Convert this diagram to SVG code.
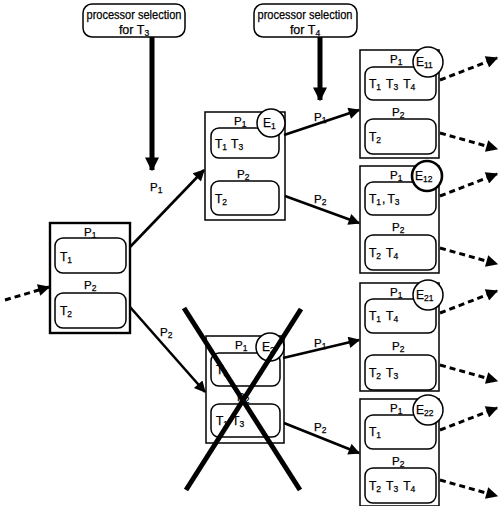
<svg xmlns="http://www.w3.org/2000/svg" width="503" height="506" viewBox="0 0 503 506">
<style>
text{font-family:"Liberation Sans",Arial,sans-serif;fill:#000;stroke:#000;stroke-width:0.25}
.lbl{font-size:12.5px}
.p{font-size:11.5px}
.t{font-size:12px}
.s{font-size:8.5px}
.box{fill:#fff;stroke:#000;stroke-width:1.5}
.rr{fill:#fff;stroke:#000;stroke-width:1.5}
.circ{fill:#fff;stroke:#000;stroke-width:1.5}
.ln{stroke:#000;stroke-width:2.6;fill:none}
.dash{stroke:#000;stroke-width:3;stroke-dasharray:6 4;fill:none}
.thick{stroke:#000;stroke-width:5;fill:none}
</style>
<defs>
<marker id="ah" viewBox="0 0 10 10" refX="9" refY="5" markerWidth="5" markerHeight="4.4" orient="auto" markerUnits="strokeWidth"><path d="M0,0 L10,5 L0,10 z" fill="#000"/></marker>
<marker id="ahd" viewBox="0 0 10 10" refX="9" refY="5" markerWidth="4.4" markerHeight="4" orient="auto" markerUnits="strokeWidth"><path d="M0,0 L10,5 L0,10 z" fill="#000"/></marker>
<marker id="aht" viewBox="0 0 10 10" refX="9" refY="5" markerWidth="2.8" markerHeight="2.8" orient="auto" markerUnits="strokeWidth"><path d="M0,0 L10,5 L0,10 z" fill="#000"/></marker>
</defs>

<g id="sel3">
<rect x="83" y="4" width="102" height="33" rx="9" class="box"/>
<text x="134" y="19" text-anchor="middle" class="lbl" textLength="95" lengthAdjust="spacingAndGlyphs">processor selection</text>
<text x="134" y="34" text-anchor="middle" class="lbl">for T<tspan class="s" dy="2">3</tspan></text>
</g>
<g id="sel4">
<rect x="254" y="4" width="103" height="33" rx="9" class="box"/>
<text x="305" y="19" text-anchor="middle" class="lbl" textLength="95" lengthAdjust="spacingAndGlyphs">processor selection</text>
<text x="305" y="34" text-anchor="middle" class="lbl">for T<tspan class="s" dy="2">4</tspan></text>
</g>

<g id="root">
<rect x="50" y="223" width="80" height="110" fill="#fff" stroke="#000" stroke-width="2.4"/>
<text x="84" y="236" class="p">P<tspan class="s" dy="2">1</tspan></text>
<rect x="55" y="238" width="71" height="35" rx="8" class="rr"/>
<text x="60" y="261" class="t">T<tspan class="s" dy="2">1</tspan></text>
<text x="84" y="289" class="p">P<tspan class="s" dy="2">2</tspan></text>
<rect x="55" y="293" width="71" height="35" rx="8" class="rr"/>
<text x="60" y="315" class="t">T<tspan class="s" dy="2">2</tspan></text>
</g>

<g id="E1">
<rect x="205" y="112" width="80" height="108" class="box"/>
<text x="234" y="125" class="p">P<tspan class="s" dy="2">1</tspan></text>
<rect x="211" y="128" width="68" height="30" rx="8" class="rr"/>
<text x="215" y="148" class="t">T<tspan class="s" dy="2">1</tspan><tspan dy="-2" dx="4">T</tspan><tspan class="s" dy="2">3</tspan></text>
<text x="237" y="178" class="p">P<tspan class="s" dy="2">2</tspan></text>
<rect x="211" y="181" width="68" height="34" rx="8" class="rr"/>
<text x="215" y="203" class="t">T<tspan class="s" dy="2">2</tspan></text>
<circle cx="271" cy="123" r="14" class="circ"/>
<text x="263" y="127" class="t">E<tspan class="s" dy="2">1</tspan></text>
</g>

<g id="E2">
<rect x="206" y="336" width="78" height="107" class="box"/>
<text x="235" y="349" class="p">P<tspan class="s" dy="2">1</tspan></text>
<rect x="211" y="353" width="69" height="33" rx="8" class="rr"/>
<text x="216" y="374" class="t">T<tspan class="s" dy="2">1</tspan></text>
<text x="237" y="401" class="p">P<tspan class="s" dy="2">2</tspan></text>
<rect x="211" y="404" width="69" height="33" rx="8" class="rr"/>
<text x="216" y="425" class="t">T<tspan class="s" dy="2">1</tspan><tspan dy="-2" dx="4">T</tspan><tspan class="s" dy="2">3</tspan></text>
<circle cx="270" cy="347" r="14" class="circ"/>
<text x="262" y="351" class="t">E<tspan class="s" dy="2">2</tspan></text>
</g>

<g id="E11">
<rect x="360" y="50" width="79" height="108" class="box"/>
<text x="390" y="63" class="p">P<tspan class="s" dy="2">1</tspan></text>
<rect x="365" y="67" width="71" height="33" rx="8" class="rr"/>
<text x="369" y="88" class="t">T<tspan class="s" dy="2">1</tspan><tspan dy="-2" dx="5">T</tspan><tspan class="s" dy="2">3</tspan><tspan dy="-2" dx="5">T</tspan><tspan class="s" dy="2">4</tspan></text>
<text x="392" y="116" class="p">P<tspan class="s" dy="2">2</tspan></text>
<rect x="365" y="119" width="71" height="35" rx="8" class="rr"/>
<text x="369" y="141" class="t">T<tspan class="s" dy="2">2</tspan></text>
<circle cx="428" cy="62" r="15" class="circ"/>
<text x="416" y="66" class="t">E<tspan class="s" dy="2">11</tspan></text>
</g>

<g id="E12">
<rect x="360" y="166" width="79" height="107" class="box"/>
<text x="390" y="179" class="p">P<tspan class="s" dy="2">1</tspan></text>
<rect x="365" y="182" width="71" height="33" rx="8" class="rr"/>
<text x="369" y="203" class="t">T<tspan class="s" dy="2">1</tspan><tspan dx="1" dy="-2">,</tspan><tspan dx="2">T</tspan><tspan class="s" dy="2">3</tspan></text>
<text x="392" y="231" class="p">P<tspan class="s" dy="2">2</tspan></text>
<rect x="365" y="235" width="71" height="35" rx="8" class="rr"/>
<text x="369" y="257" class="t">T<tspan class="s" dy="2">2</tspan><tspan dy="-2" dx="5">T</tspan><tspan class="s" dy="2">4</tspan></text>
<circle cx="427" cy="176" r="15" fill="#fff" stroke="#000" stroke-width="2.6"/>
<text x="415" y="180" class="t">E<tspan class="s" dy="2">12</tspan></text>
</g>

<g id="E21">
<rect x="360" y="283" width="79" height="108" class="box"/>
<text x="390" y="296" class="p">P<tspan class="s" dy="2">1</tspan></text>
<rect x="365" y="299" width="71" height="34" rx="8" class="rr"/>
<text x="369" y="320" class="t">T<tspan class="s" dy="2">1</tspan><tspan dy="-2" dx="5">T</tspan><tspan class="s" dy="2">4</tspan></text>
<text x="392" y="350" class="p">P<tspan class="s" dy="2">2</tspan></text>
<rect x="365" y="355" width="71" height="35" rx="8" class="rr"/>
<text x="369" y="377" class="t">T<tspan class="s" dy="2">2</tspan><tspan dy="-2" dx="5">T</tspan><tspan class="s" dy="2">3</tspan></text>
<circle cx="428" cy="295" r="15" class="circ"/>
<text x="416" y="299" class="t">E<tspan class="s" dy="2">21</tspan></text>
</g>

<g id="E22">
<rect x="360" y="399" width="79" height="107" class="box"/>
<text x="390" y="412" class="p">P<tspan class="s" dy="2">1</tspan></text>
<rect x="365" y="415" width="71" height="34" rx="8" class="rr"/>
<text x="369" y="436" class="t">T<tspan class="s" dy="2">1</tspan></text>
<text x="392" y="465" class="p">P<tspan class="s" dy="2">2</tspan></text>
<rect x="365" y="468" width="71" height="35" rx="8" class="rr"/>
<text x="369" y="490" class="t">T<tspan class="s" dy="2">2</tspan><tspan dy="-2" dx="5">T</tspan><tspan class="s" dy="2">3</tspan><tspan dy="-2" dx="5">T</tspan><tspan class="s" dy="2">4</tspan></text>
<circle cx="428" cy="410" r="15" class="circ"/>
<text x="416" y="414" class="t">E<tspan class="s" dy="2">22</tspan></text>
</g>

<g id="connectors">
<line x1="152" y1="37" x2="152" y2="170" class="thick" marker-end="url(#aht)"/>
<line x1="320" y1="37" x2="320" y2="100" class="thick" marker-end="url(#aht)"/>
<line x1="5" y1="300" x2="49" y2="287" class="dash" marker-end="url(#ahd)"/>
<line x1="130" y1="247" x2="204" y2="170" class="ln" marker-end="url(#ah)"/>
<line x1="130" y1="307" x2="205" y2="392" class="ln" marker-end="url(#ah)"/>
<line x1="284" y1="135" x2="359" y2="110" class="ln" marker-end="url(#ah)"/>
<line x1="285" y1="196" x2="359" y2="223" class="ln" marker-end="url(#ah)"/>
<line x1="283" y1="358" x2="359" y2="340" class="ln" marker-end="url(#ah)"/>
<line x1="284" y1="423" x2="359" y2="453" class="ln" marker-end="url(#ah)"/>
<line x1="440" y1="80" x2="497" y2="58" class="dash" marker-end="url(#ahd)"/>
<line x1="440" y1="133" x2="497" y2="149" class="dash" marker-end="url(#ahd)"/>
<line x1="440" y1="196" x2="497" y2="174" class="dash" marker-end="url(#ahd)"/>
<line x1="440" y1="248" x2="497" y2="264" class="dash" marker-end="url(#ahd)"/>
<line x1="440" y1="313" x2="497" y2="291" class="dash" marker-end="url(#ahd)"/>
<line x1="440" y1="365" x2="497" y2="381" class="dash" marker-end="url(#ahd)"/>
<line x1="440" y1="430" x2="497" y2="408" class="dash" marker-end="url(#ahd)"/>
<line x1="440" y1="480" x2="497" y2="496" class="dash" marker-end="url(#ahd)"/>
<text x="150" y="191" class="p">P<tspan class="s" dy="2">1</tspan></text>
<text x="160" y="336" class="p">P<tspan class="s" dy="2">2</tspan></text>
<text x="314" y="121" class="p">P<tspan class="s" dy="2">1</tspan></text>
<text x="314" y="203" class="p">P<tspan class="s" dy="2">2</tspan></text>
<text x="314" y="347" class="p">P<tspan class="s" dy="2">1</tspan></text>
<text x="314" y="431" class="p">P<tspan class="s" dy="2">2</tspan></text>
</g>

<g id="cross">
<line x1="184" y1="308" x2="300" y2="490" stroke="#000" stroke-width="5"/>
<line x1="301" y1="309" x2="186" y2="490" stroke="#000" stroke-width="5"/>
</g>
</svg>
